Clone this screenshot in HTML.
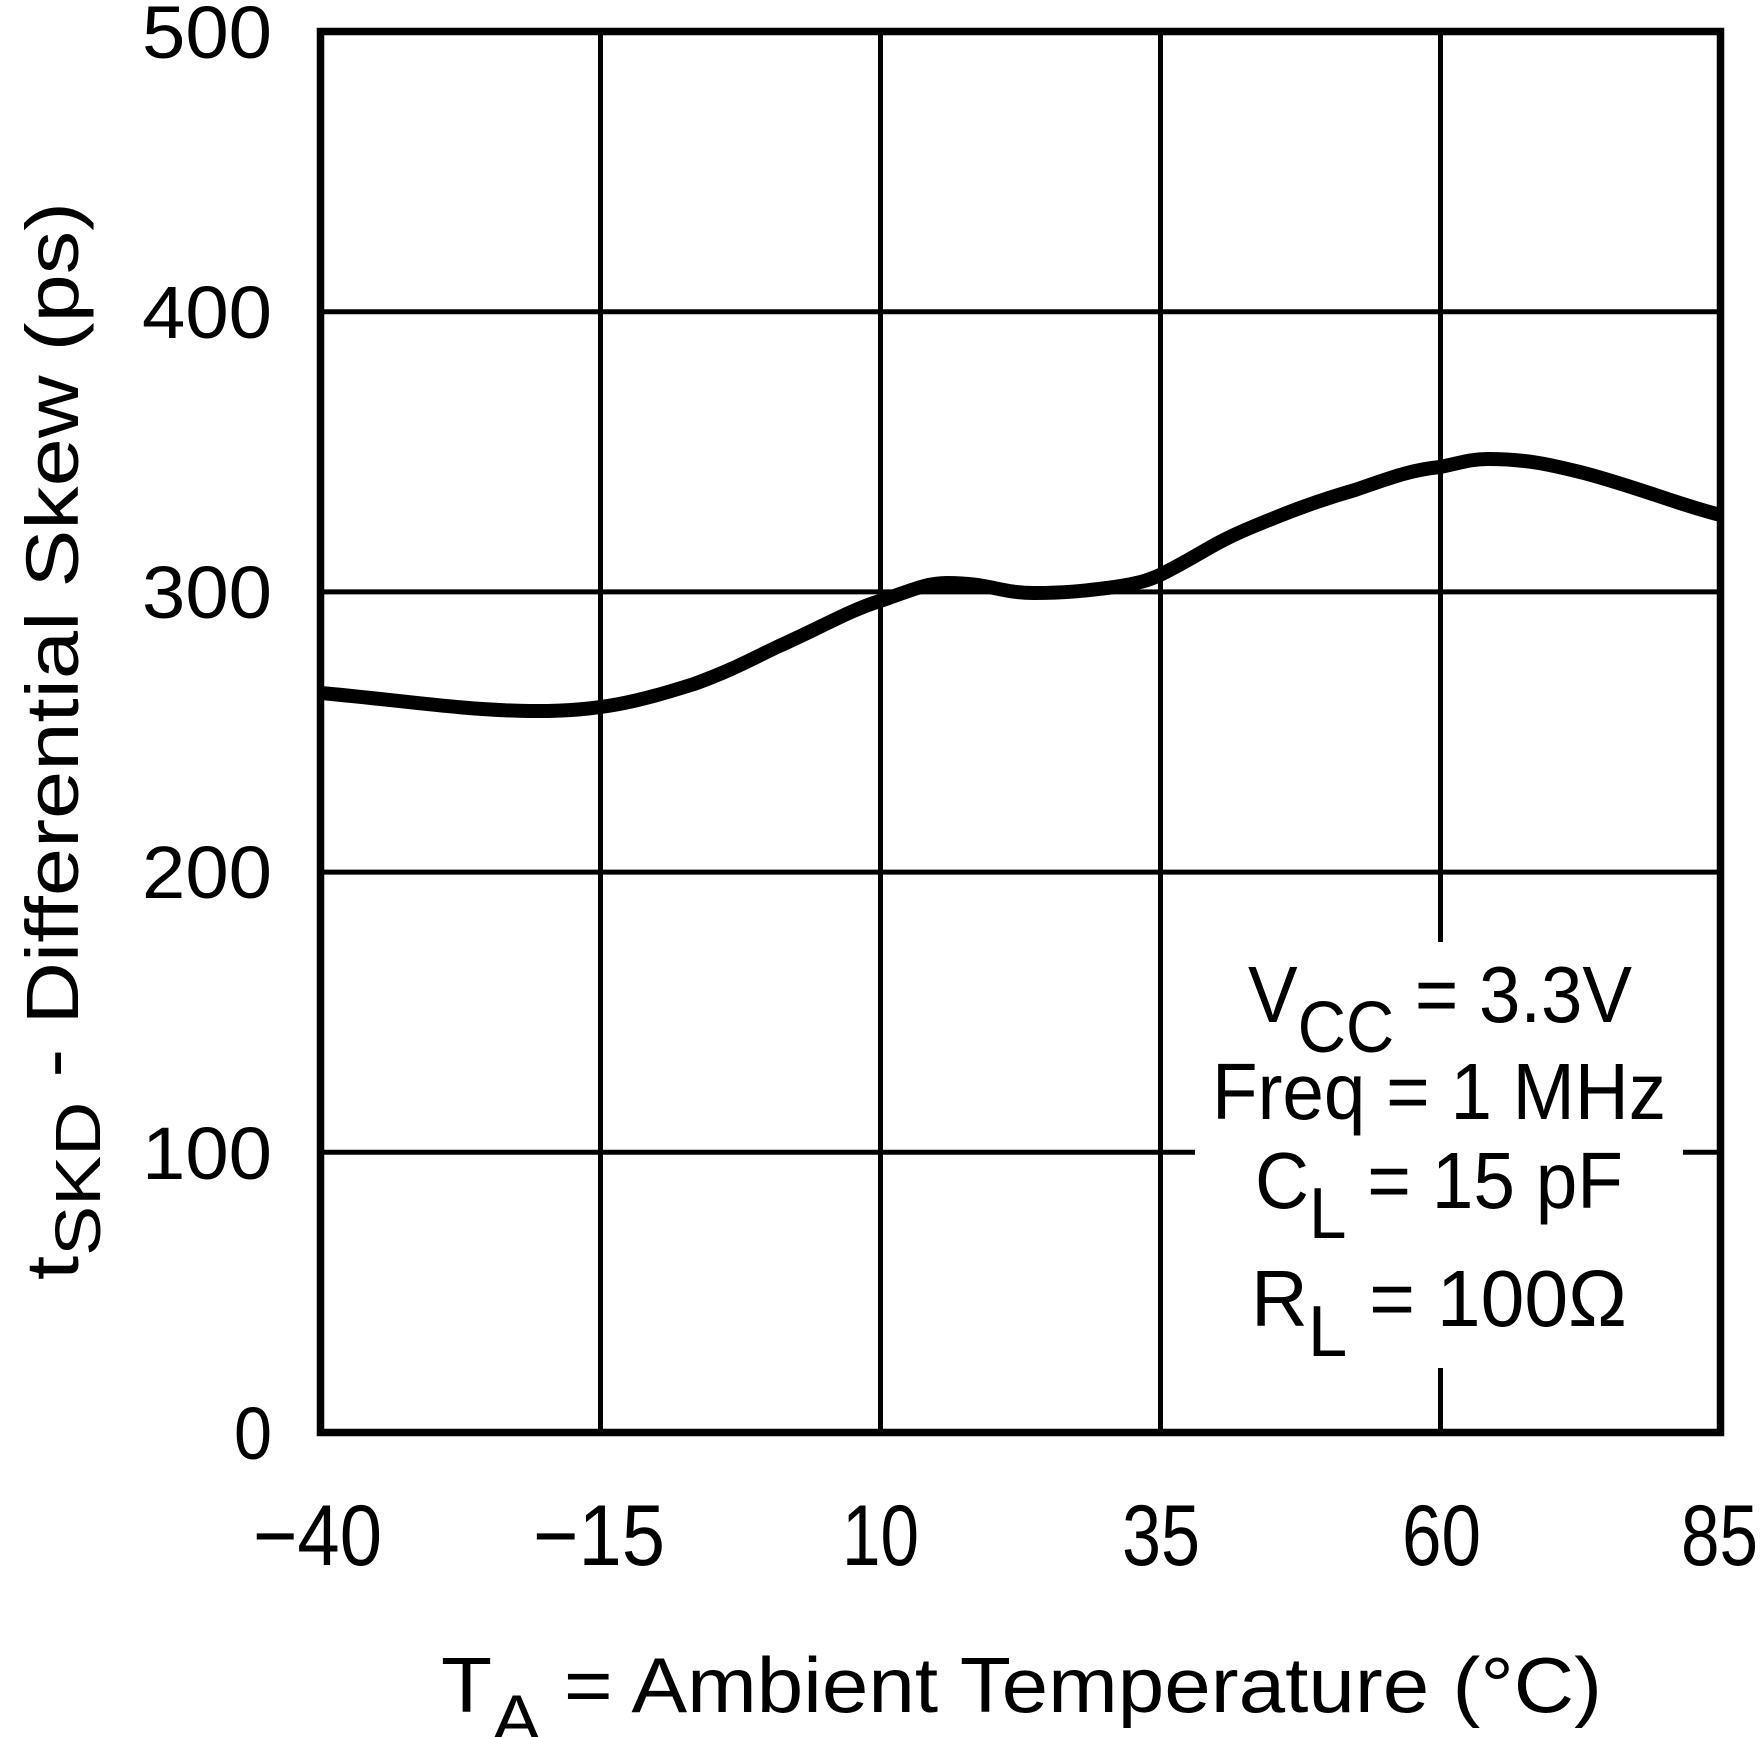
<!DOCTYPE html>
<html><head><style>html,body{margin:0;padding:0;background:#fff}svg{display:block}</style></head>
<body>
<svg width="1761" height="1737" viewBox="0 0 1761 1737" xmlns="http://www.w3.org/2000/svg" font-family="'Liberation Sans', sans-serif" fill="#000">
<rect width="1761" height="1737" fill="#fff"/>
<g stroke="#000" stroke-width="5" fill="none">
<line x1="600.5" y1="31.5" x2="600.5" y2="1432.5"/>
<line x1="880.5" y1="31.5" x2="880.5" y2="1432.5"/>
<line x1="1160.5" y1="31.5" x2="1160.5" y2="1432.5"/>
<line x1="1440.5" y1="31.5" x2="1440.5" y2="1432.5"/>
<line x1="320.5" y1="311.7" x2="1720.5" y2="311.7"/>
<line x1="320.5" y1="591.9" x2="1720.5" y2="591.9"/>
<line x1="320.5" y1="872.1" x2="1720.5" y2="872.1"/>
<line x1="320.5" y1="1152.3" x2="1720.5" y2="1152.3"/>
</g>
<rect x="1195" y="942" width="488" height="426" fill="#fff"/>
<path d="M320.5,693 C400,700 460,710 529,711 C600,712 640,701 694,684 C730,671 750,660 777,647 C820,628 850,610 880,601 C910,591 925,583 947,583 C990,583 1000,593 1034,593 C1070,593 1090,590 1107,588 C1130,585 1145,582 1160,575 C1200,555 1210,545 1245,530 C1290,511 1320,500 1355,490 C1390,478 1410,470 1440,467 C1460,463 1470,459 1488,459 C1530,459 1555,466 1584,473 C1640,488 1680,505 1720.5,515" stroke="#000" stroke-width="14" fill="none"/>
<rect x="320.5" y="31.5" width="1400" height="1401" stroke="#000" stroke-width="7.5" fill="none"/>
<g font-size="74" text-anchor="end">
<text x="272" y="58" textLength="130" lengthAdjust="spacingAndGlyphs">500</text>
<text x="272" y="338" textLength="130" lengthAdjust="spacingAndGlyphs">400</text>
<text x="272" y="618" textLength="130" lengthAdjust="spacingAndGlyphs">300</text>
<text x="272" y="898" textLength="130" lengthAdjust="spacingAndGlyphs">200</text>
<text x="272" y="1179" textLength="130" lengthAdjust="spacingAndGlyphs">100</text>
<text x="272" y="1459" textLength="38" lengthAdjust="spacingAndGlyphs">0</text>
</g>
<g font-size="86">
<text x="253" y="1565" textLength="129" lengthAdjust="spacingAndGlyphs">−40</text>
<text x="533" y="1565" textLength="132" lengthAdjust="spacingAndGlyphs">−15</text>
<text x="842" y="1565" textLength="77" lengthAdjust="spacingAndGlyphs">10</text>
<text x="1122" y="1565" textLength="78" lengthAdjust="spacingAndGlyphs">35</text>
<text x="1402" y="1565" textLength="79" lengthAdjust="spacingAndGlyphs">60</text>
<text x="1681" y="1565" textLength="77" lengthAdjust="spacingAndGlyphs">85</text>
</g>
<text x="441" y="1712" font-size="78" textLength="1161" lengthAdjust="spacingAndGlyphs">T<tspan font-size="68" dy="30">A</tspan><tspan dy="-30"> = Ambient  Temperature  (°C)</tspan></text>
<text transform="translate(78,1280) rotate(-90)" font-size="74" textLength="1078" lengthAdjust="spacingAndGlyphs">t<tspan font-size="64" dy="22">SKD</tspan><tspan dy="-22"> - Differential  Skew  (ps)</tspan></text>
<g font-size="80">
<text x="1248" y="1022" textLength="384" lengthAdjust="spacingAndGlyphs">V<tspan font-size="72" dy="30">CC</tspan><tspan dy="-30"> = 3.3V</tspan></text>
<text x="1212" y="1119" textLength="454" lengthAdjust="spacingAndGlyphs">Freq = 1 MHz</text>
<text x="1255" y="1208" textLength="368" lengthAdjust="spacingAndGlyphs">C<tspan font-size="72" dy="30">L</tspan><tspan dy="-30"> = 15 pF</tspan></text>
<text x="1251" y="1326" textLength="376" lengthAdjust="spacingAndGlyphs">R<tspan font-size="72" dy="30">L</tspan><tspan dy="-30"> = 100Ω</tspan></text>
</g>
</svg>
</body></html>
